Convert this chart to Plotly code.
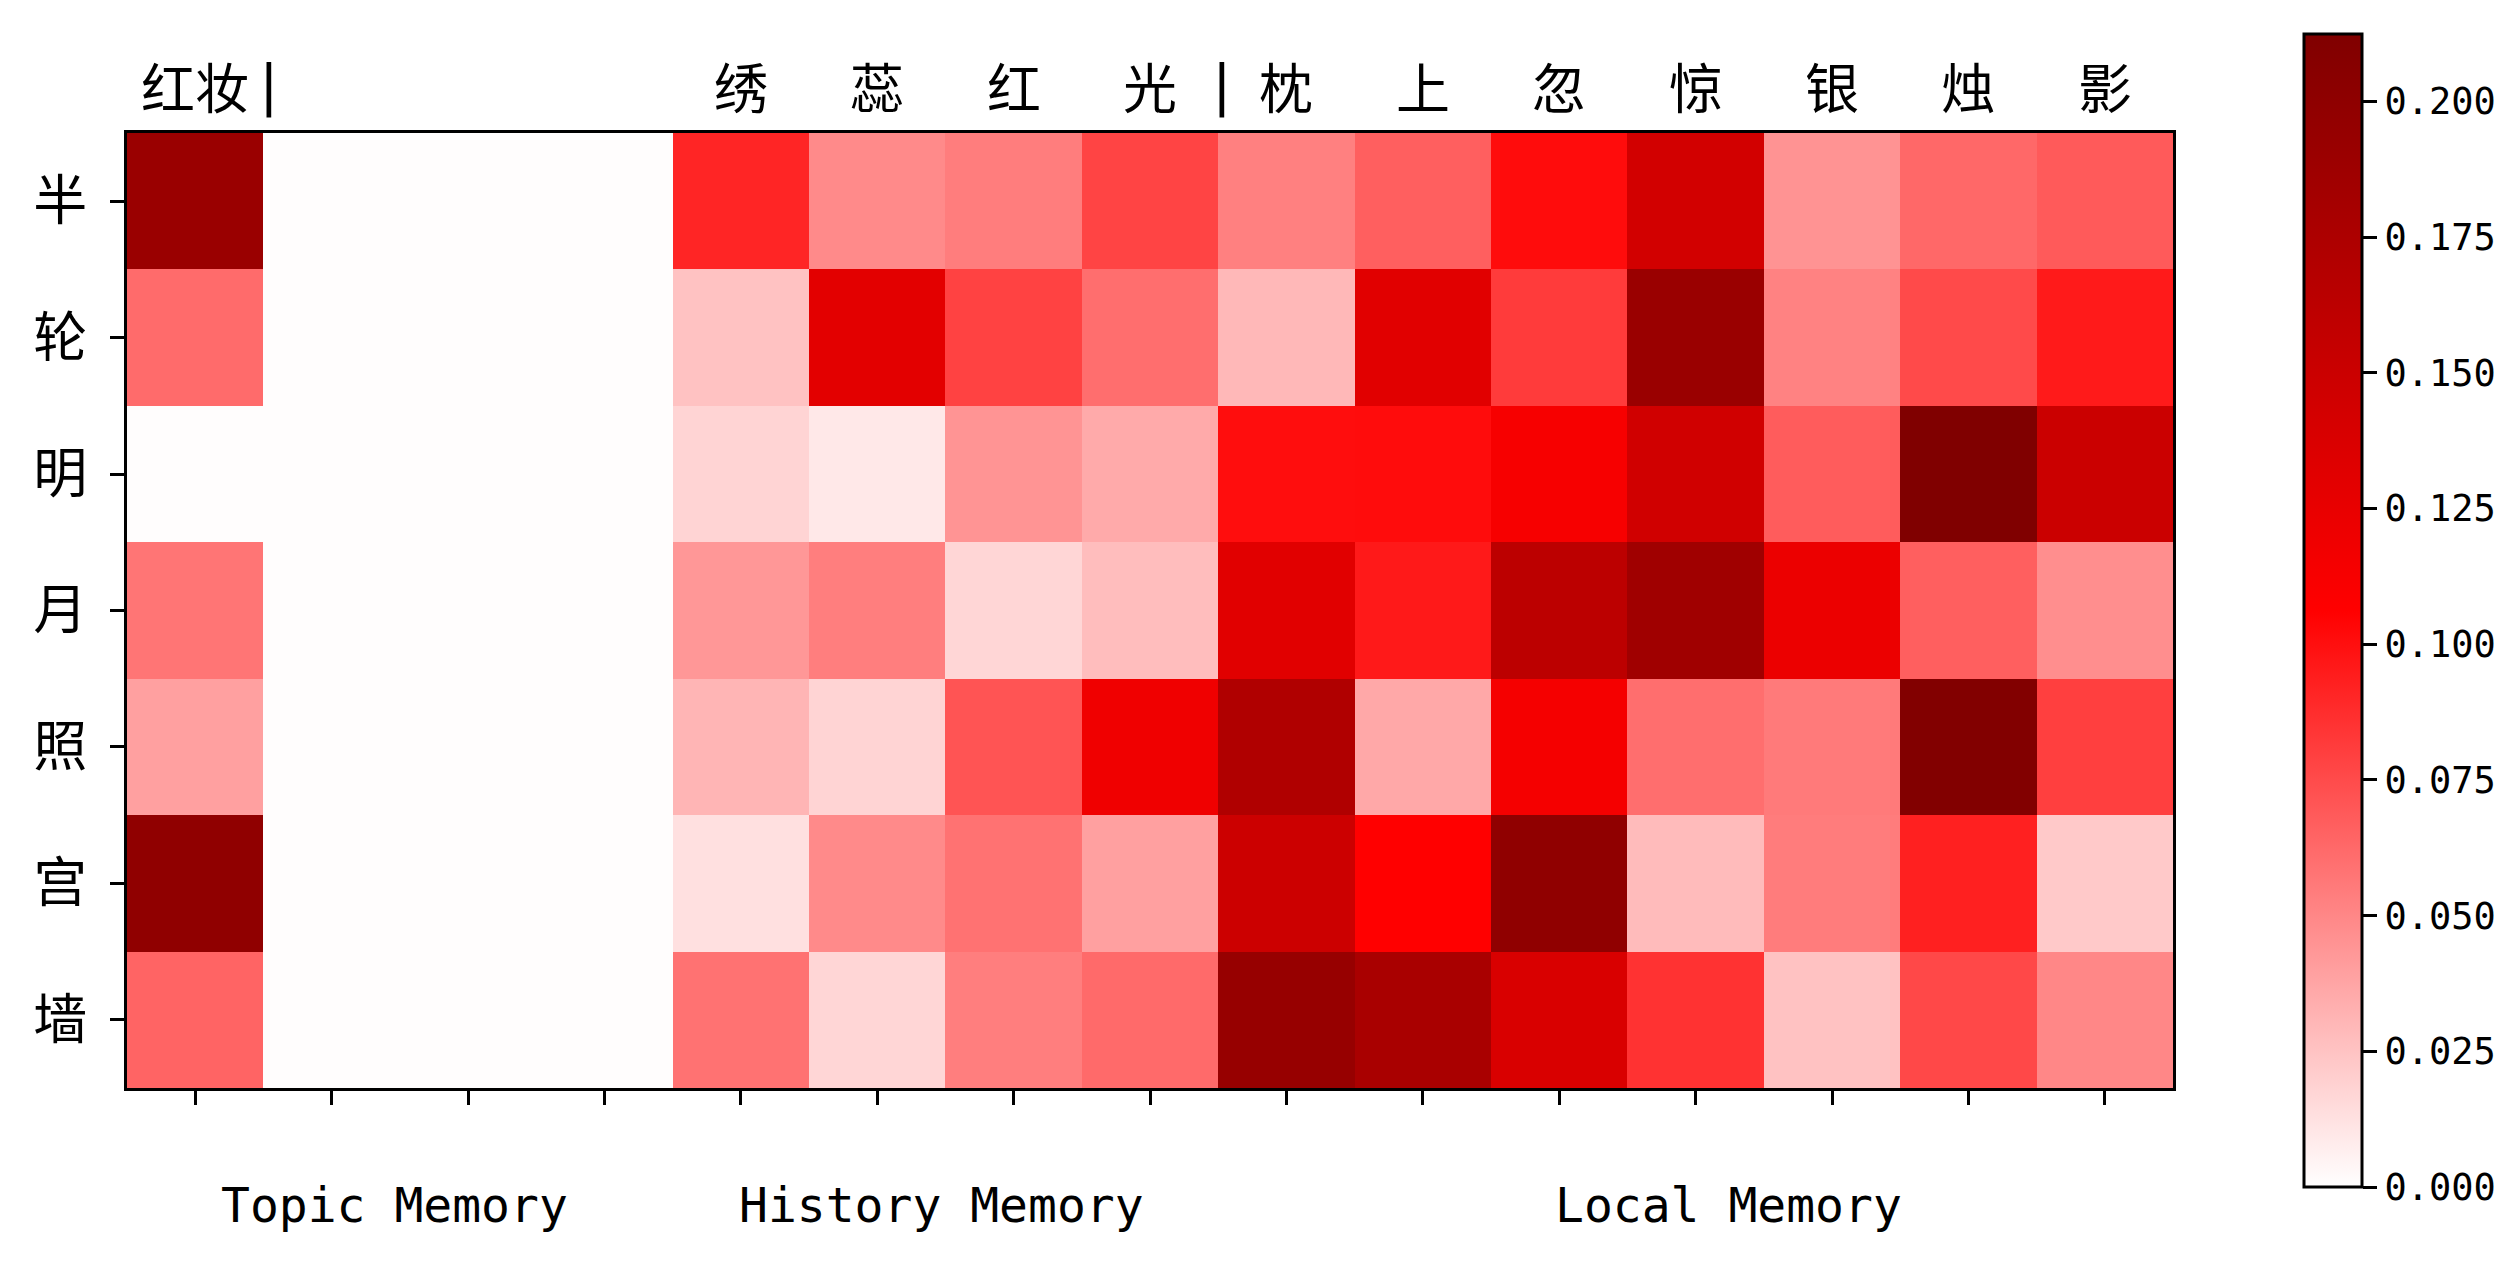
import plotly.graph_objects as go

rows = ["半", "轮", "明", "月", "照", "宫", "墙"]
top_labels = ["红妆", "", "", "", "绣", "蕊", "红", "光", "枕", "上", "忽", "惊", "银", "烛", "影"]
group_labels = ["Topic Memory", "History Memory", "Local Memory"]
group_pos = [1.46, 5.47, 11.24]
sep_pos = [0.54, 7.53]

z_vals = [
    [0.191, 0.001, 0.001, 0.001, 0.0908, 0.0487, 0.0541, 0.0779, 0.0529, 0.0666, 0.1012, 0.1438, 0.0450, 0.0629, 0.0687],
    [0.0616, 0.001, 0.001, 0.001, 0.0254, 0.1296, 0.0787, 0.0604, 0.0296, 0.1313, 0.0816, 0.1910, 0.0521, 0.0754, 0.0954],
    [0.001, 0.001, 0.001, 0.001, 0.0179, 0.0096, 0.0446, 0.0354, 0.1008, 0.1014, 0.1129, 0.1455, 0.0679, 0.2124, 0.1497],
    [0.0575, 0.001, 0.001, 0.001, 0.0433, 0.0537, 0.0171, 0.0275, 0.1313, 0.0958, 0.1622, 0.1856, 0.1221, 0.0666, 0.0471],
    [0.0396, 0.001, 0.001, 0.001, 0.0308, 0.0179, 0.0712, 0.1187, 0.1722, 0.0362, 0.1146, 0.0604, 0.0554, 0.2110, 0.0800],
    [0.199, 0.001, 0.001, 0.001, 0.0129, 0.0487, 0.0587, 0.0396, 0.1490, 0.1060, 0.1990, 0.0283, 0.0545, 0.0929, 0.0225],
    [0.0646, 0.001, 0.001, 0.001, 0.0587, 0.0171, 0.0537, 0.0620, 0.1930, 0.1780, 0.1380, 0.0854, 0.0254, 0.0762, 0.0500],
]
cbar_ticks = [0.0, 0.025, 0.05, 0.075, 0.1, 0.125, 0.15, 0.175, 0.2]

CJK = "Noto Sans CJK SC"
MONO = "DejaVu Sans Mono"

fig = go.Figure(go.Heatmap(
    z=z_vals,
    x=list(range(len(top_labels))),
    y=list(range(len(rows))),
    zmin=0, zmax=0.2124,
    colorscale=[[0, "#FFFFFF"], [0.5, "#FF0000"], [1, "#800000"]],
    xgap=0, ygap=0,
    colorbar=dict(
        x=1.059, xanchor="left", xref="paper",
        y=0.5, yanchor="middle",
        thickness=58, thicknessmode="pixels",
        len=1173, lenmode="pixels",
        outlinecolor="black", outlinewidth=3,
        tickvals=cbar_ticks, tickformat=".3f",
        ticks="outside", ticklen=14, tickwidth=3, tickcolor="black",
        tickfont=dict(family=MONO, size=37, color="black"),
    ),
))

annotations = []
for i, t in enumerate(top_labels):
    if t:
        annotations.append(dict(x=i, y=1.05, xref="x", yref="paper", text=t, showarrow=False,
                                xanchor="center", yanchor="middle",
                                font=dict(family=CJK, size=54, color="black")))
for p in sep_pos:
    annotations.append(dict(x=p, y=1.05, xref="x", yref="paper", text="|", showarrow=False,
                            xanchor="center", yanchor="middle",
                            font=dict(family=MONO, size=56, color="black")))
for lbl, p in zip(group_labels, group_pos):
    annotations.append(dict(x=p, y=-0.1225, xref="x", yref="paper", text=lbl, showarrow=False,
                            xanchor="center", yanchor="middle",
                            font=dict(family=MONO, size=48, color="black")))

fig.update_layout(
    width=2520, height=1261,
    margin=dict(l=127, r=345, t=133, b=173, pad=0),
    paper_bgcolor="white", plot_bgcolor="white",
    annotations=annotations,
    xaxis=dict(
        range=[-0.5, 14.5], tickvals=list(range(15)), ticktext=[""] * 15,
        showticklabels=False, ticks="outside", ticklen=14, tickwidth=3, tickcolor="black",
        showline=True, linecolor="black", linewidth=3, mirror=True,
        showgrid=False, zeroline=False,
    ),
    yaxis=dict(
        range=[6.5, -0.5], tickvals=list(range(7)), ticktext=rows,
        ticks="outside", ticklen=14, tickwidth=3, tickcolor="black",
        tickfont=dict(family=CJK, size=54, color="black"),
        ticklabelstandoff=12,
        showline=True, linecolor="black", linewidth=3, mirror=True,
        showgrid=False, zeroline=False,
    ),
)

fig.write_html("out.html")
